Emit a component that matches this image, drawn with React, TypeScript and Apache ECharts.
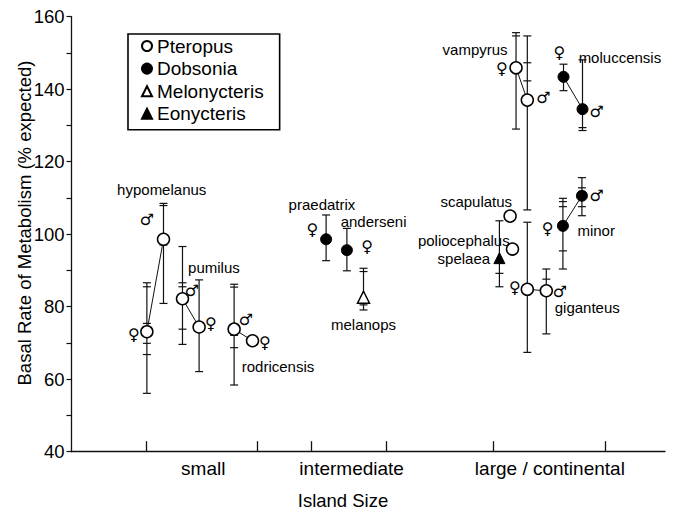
import React, { useEffect, useRef } from "react";
import * as echarts from "echarts";

// Horizontal axis: island-size groups laid out along a 0–100 position scale
const categoryNames = ["small", "intermediate", "large / continental"];
const categoryCenters = [22.2, 47.2, 80.6];
const groupTicks = [12.6, 31.3, 40.4, 53.0, 71.0, 89.9];

// Pteropus (open circles)
const pteropusX = [12.7, 15.5, 18.7, 21.5, 27.4, 30.5, 74.9, 76.8, 73.9, 74.3, 76.8, 80.0];
const pteropusY = [73.1, 98.6, 82.2, 74.4, 73.8, 70.6, 145.9, 137.0, 105.0, 95.9, 84.8, 84.4];
const pteropusTicks = [
  [86.6, 85.5, 75.4, 69.9, 66.8, 56.1],
  [108.5, 107.9, 97.0, 80.9],
  [96.6, 86.6, 85.5, 73.8, 69.6],
  [87.4, 75.5, 62.1],
  [86.2, 85.4, 72.1, 68.7, 58.4],
  [],
  [155.6, 154.7, 129.0],
  [154.7, 147.3, 142.3, 106.7],
  [],
  [],
  [103.3, 67.4],
  [90.4, 87.6, 72.5],
];
const pteropusPairs = [[0, 1], [2, 3], [4, 5], [6, 7], [10, 11]];

// Dobsonia (filled circles)
const dobsoniaX = [42.9, 46.4, 82.8, 86.0, 82.9, 86.1];
const dobsoniaY = [98.6, 95.6, 102.3, 110.6, 143.4, 134.5];
const dobsoniaTicks = [
  [105.3, 92.7],
  [101.6, 89.9],
  [109.9, 109.0, 107.6, 95.4, 90.4],
  [115.6, 112.8, 107.6, 105.1],
  [146.9, 139.6],
  [148.1, 129.4, 128.6],
];
const dobsoniaPairs = [[2, 3], [4, 5]];

// Melonycteris (open triangle)
const melonycterisX = [49.2];
const melonycterisY = [82.6];
const melonycterisTicks = [[90.6, 89.7, 80.5, 79.1]];

// Eonycteris (filled triangle)
const eonycterisX = [72.1];
const eonycterisY = [93.4];
const eonycterisTicks = [[103.7, 92.1, 89.2, 85.5]];

// Species names
const speciesLabels = [
  "hypomelanus", "pumilus", "rodricensis", "praedatrix", "anderseni", "melanops",
  "vampyrus", "moluccensis", "scapulatus", "poliocephalus", "spelaea", "minor", "giganteus",
];
const speciesLabelX = [15.2, 24.0, 34.8, 42.2, 50.9, 49.2, 68.0, 92.4, 68.2, 66.1, 66.1, 88.4, 86.9];
const speciesLabelY = [112.2, 90.9, 63.4, 108.2, 103.4, 75.0, 151.0, 148.8, 109.0, 98.4, 93.2, 100.9, 79.7];

// Sex markers
const sexMarks = ["♀", "♂", "♂", "♀", "♂", "♀", "♀", "♀", "♀", "♂", "♀", "♂", "♀", "♂", "♀", "♂"];
const sexMarkX = [10.5, 12.7, 20.3, 23.5, 29.4, 32.6, 40.6, 49.8, 72.5, 79.5, 74.7, 82.3, 80.2, 88.5, 82.2, 88.5];
const sexMarkY = [72.4, 104.1, 84.6, 75.4, 76.5, 70.1, 101.4, 96.6, 145.8, 137.8, 85.4, 84.1, 101.6, 110.8, 150.1, 133.8];

const FONT = '"Liberation Sans", Arial, Helvetica, sans-serif';
const INK = "#111";

type Bar = { x: number; ticks: number[] };

function collectBars(xs: number[], ticks: number[][]): Bar[] {
  return xs.map((x, i) => ({ x, ticks: ticks[i] })).filter((b) => b.ticks.length > 0);
}

function pairLines(name: string, xs: number[], ys: number[], pairs: number[][]) {
  return pairs.map(([a, b], i) => ({
    name: `${name}-${i}`,
    type: "line",
    data: [[xs[a], ys[a]], [xs[b], ys[b]]],
    symbol: "none",
    silent: true,
    z: 3,
    lineStyle: { color: INK, width: 1 },
  }));
}

export default function App() {
  const ref = useRef<HTMLDivElement>(null);

  useEffect(() => {
    document.body.style.margin = "0";
    if (!ref.current) return;
    const chart = echarts.init(ref.current, undefined, { renderer: "svg" });

    const bars: Bar[] = [
      ...collectBars(pteropusX, pteropusTicks),
      ...collectBars(dobsoniaX, dobsoniaTicks),
      ...collectBars(melonycterisX, melonycterisTicks),
      ...collectBars(eonycterisX, eonycterisTicks),
    ];

    const zip = (xs: number[], ys: number[]) => xs.map((x, i) => [x, ys[i]]);

    const textSeries = (name: string, labels: string[], xs: number[], ys: number[], fontSize: number, fontFamily: string) => ({
      name,
      type: "custom",
      coordinateSystem: "cartesian2d",
      silent: true,
      z: 6,
      data: zip(xs, ys),
      encode: { x: 0, y: 1 },
      renderItem: (params: any, api: any) => {
        const p = api.coord([api.value(0), api.value(1)]);
        return {
          type: "text",
          x: p[0],
          y: p[1],
          style: {
            text: labels[params.dataIndex],
            fontSize,
            fontFamily,
            fill: "#000",
            align: "center",
            verticalAlign: "middle",
          },
        };
      },
    });

    chart.setOption({
      animation: false,
      backgroundColor: "#fff",
      textStyle: { fontFamily: FONT },
      grid: { left: 71.5, right: 9, top: 16.7, bottom: 62.3, containLabel: false },
      xAxis: {
        type: "value",
        min: 0,
        max: 100,
        splitLine: { show: false },
        axisLine: { lineStyle: { color: INK, width: 1.3 } },
        axisTick: {
          show: true,
          inside: true,
          length: 10.5,
          customValues: groupTicks,
          lineStyle: { color: INK, width: 1.3 },
        },
        axisLabel: {
          show: true,
          customValues: categoryCenters,
          formatter: (v: number) => categoryNames[categoryCenters.indexOf(v)] ?? "",
          fontSize: 19,
          color: "#000",
          fontFamily: FONT,
          margin: 7,
        },
      },
      yAxis: {
        type: "value",
        min: 40,
        max: 160,
        interval: 20,
        splitLine: { show: false },
        axisLine: { show: true, lineStyle: { color: INK, width: 1.3 } },
        axisTick: { show: true, length: 5, lineStyle: { color: INK, width: 1.2 } },
        minorTick: { show: true, splitNumber: 2, length: 5, lineStyle: { color: INK, width: 1.2 } },
        axisLabel: { fontSize: 18.5, color: "#000", fontFamily: FONT, margin: 7 },
      },
      legend: {
        data: ["Pteropus", "Dobsonia", "Melonycteris", "Eonycteris"],
        orient: "vertical",
        left: 128,
        top: 34,
        padding: [2, 16, 6, 13],
        itemGap: 2.6,
        itemWidth: 10,
        itemHeight: 10,
        borderColor: "#000",
        borderWidth: 1.6,
        selectedMode: false,
        textStyle: { fontSize: 19, lineHeight: 20, color: "#000", fontFamily: FONT },
      },
      graphic: [
        {
          type: "text",
          x: 24,
          y: 223,
          rotation: Math.PI / 2,
          style: {
            text: "Basal Rate of Metabolism (% expected)",
            fontSize: 18.5,
            fontFamily: FONT,
            fill: "#000",
            align: "center",
            verticalAlign: "middle",
          },
        },
        {
          type: "text",
          x: 343,
          y: 500,
          style: {
            text: "Island Size",
            fontSize: 18.5,
            fontFamily: FONT,
            fill: "#000",
            align: "center",
            verticalAlign: "middle",
          },
        },
      ],
      series: [
        {
          name: "errorbars",
          type: "custom",
          coordinateSystem: "cartesian2d",
          silent: true,
          z: 2,
          data: bars.map((b) => [b.x, Math.min(...b.ticks), Math.max(...b.ticks)]),
          encode: { x: 0, y: [1, 2] },
          renderItem: (params: any, api: any) => {
            const bar = bars[params.dataIndex];
            const x = api.coord([api.value(0), api.value(1)])[0];
            const ys = bar.ticks.map((t) => api.coord([bar.x, t])[1]);
            const top = Math.min(...ys);
            const bottom = Math.max(...ys);
            const style = { stroke: INK, lineWidth: 1.2 };
            const children: any[] = [
              { type: "line", shape: { x1: x, y1: top, x2: x, y2: bottom }, style },
            ];
            ys.forEach((y) =>
              children.push({ type: "line", shape: { x1: x - 4, y1: y, x2: x + 4, y2: y }, style })
            );
            return { type: "group", children };
          },
        },
        ...pairLines("pteropus-pair", pteropusX, pteropusY, pteropusPairs),
        ...pairLines("dobsonia-pair", dobsoniaX, dobsoniaY, dobsoniaPairs),
        {
          name: "Pteropus",
          type: "scatter",
          z: 5,
          symbol: "circle",
          symbolSize: 12,
          itemStyle: { color: "#fff", borderColor: "#000", borderWidth: 1.5, opacity: 1 },
          data: zip(pteropusX, pteropusY),
        },
        {
          name: "Dobsonia",
          type: "scatter",
          z: 5,
          symbol: "circle",
          symbolSize: 11,
          itemStyle: { color: "#000", borderColor: "#000", borderWidth: 1, opacity: 1 },
          data: zip(dobsoniaX, dobsoniaY),
        },
        {
          name: "Melonycteris",
          type: "scatter",
          z: 5,
          symbol: "triangle",
          symbolSize: 12,
          itemStyle: { color: "#fff", borderColor: "#000", borderWidth: 1.5, opacity: 1 },
          data: zip(melonycterisX, melonycterisY),
        },
        {
          name: "Eonycteris",
          type: "scatter",
          z: 5,
          symbol: "triangle",
          symbolSize: 11,
          itemStyle: { color: "#000", borderColor: "#000", borderWidth: 1, opacity: 1 },
          data: zip(eonycterisX, eonycterisY),
        },
        textSeries("species", speciesLabels, speciesLabelX, speciesLabelY, 15, FONT),
        textSeries("sex", sexMarks, sexMarkX, sexMarkY, 16, '"DejaVu Sans", sans-serif'),
      ],
    });

    return () => chart.dispose();
  }, []);

  return <div ref={ref} style={{ width: 674, height: 514 }} />;
}
